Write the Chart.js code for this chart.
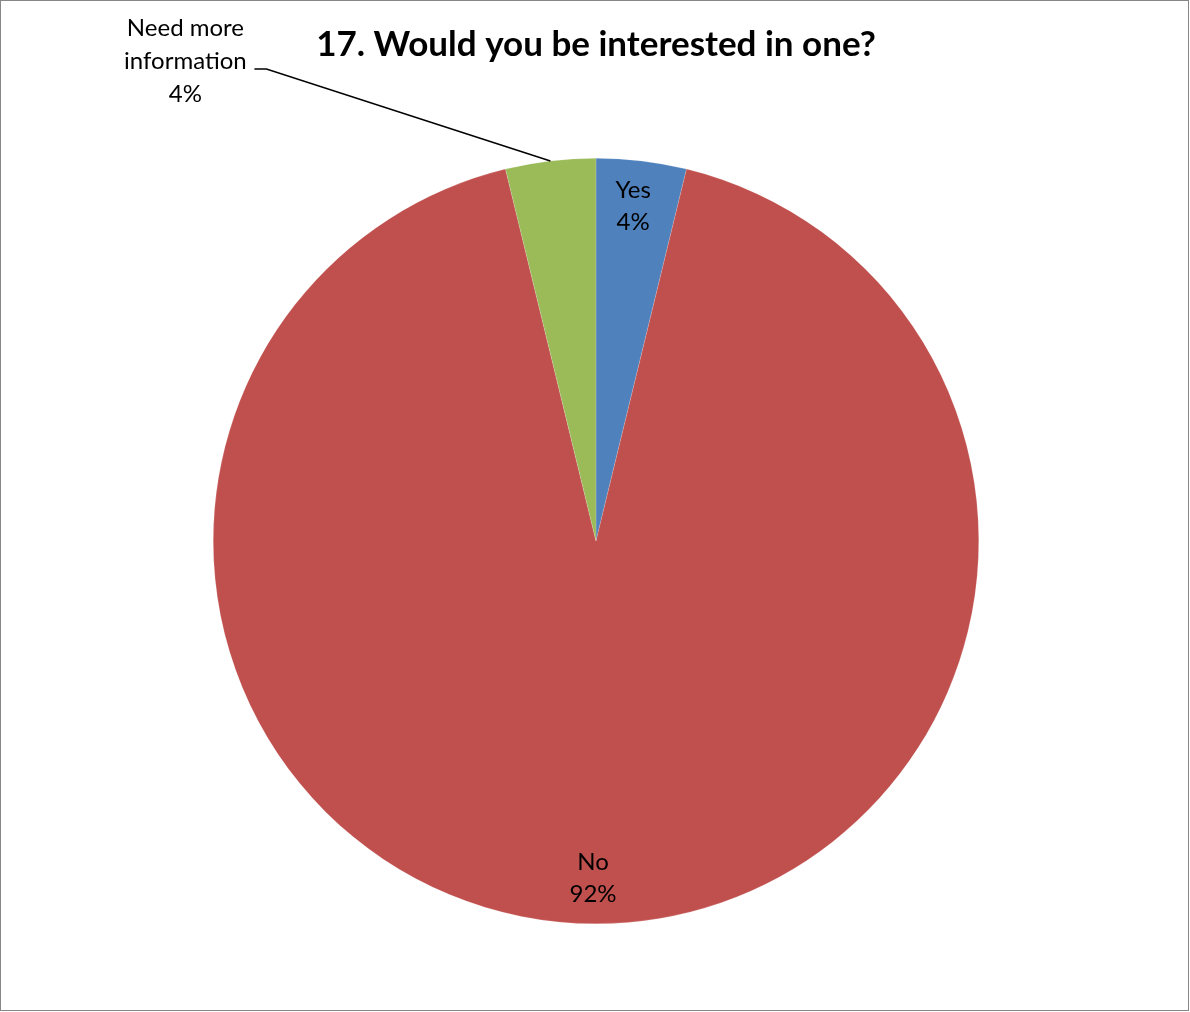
<!DOCTYPE html>
<html>
<head>
<meta charset="utf-8">
<script src="https://cdn.jsdelivr.net/npm/chart.js@4"></script>
<style>
  body { margin: 0; background: #fff; }
  canvas { display: block; }
</style>
</head>
<body>
<canvas id="pieChart" width="1190" height="1012"></canvas>
<script>
// data
const categories = ['Yes', 'No', 'Need more information'];
const shares = [3.8, 92.4, 3.8];
const sliceColors = ['#4F81BD', '#C0504D', '#9BBB59'];
const titleText = '17. Would you be interested in one?';

const FONT = 'Lato, "Open Sans", sans-serif';

// border + title + data labels
const decorations = {
  id: 'decorations',
  beforeDraw(chart) {
    const ctx = chart.ctx;
    ctx.save();
    ctx.fillStyle = '#fff';
    ctx.fillRect(0, 0, chart.width, chart.height);
    ctx.strokeStyle = '#878787';
    ctx.lineWidth = 1;
    ctx.strokeRect(0.5, 0.5, chart.width - 2, chart.height - 2);
    ctx.restore();
  },
  afterDatasetsDraw(chart) {
    const ctx = chart.ctx;
    const meta = chart.getDatasetMeta(0);
    const total = shares.reduce((a, b) => a + b, 0);
    ctx.save();
    ctx.fillStyle = '#000';
    ctx.textAlign = 'center';
    ctx.textBaseline = 'middle';

    // title
    ctx.font = 'bold 35px ' + FONT;
    const cx = (chart.chartArea.left + chart.chartArea.right) / 2;
    ctx.fillText(titleText, cx, 45);

    ctx.font = '24px ' + FONT;
    meta.data.forEach((arc, i) => {
      const p = arc.getProps(['x', 'y', 'startAngle', 'endAngle', 'outerRadius'], true);
      const mid = (p.startAngle + p.endAngle) / 2;
      const pct = Math.round(shares[i] / total * 100) + '%';
      if (i < 2) {
        const lx = p.x + Math.cos(mid) * p.outerRadius * 0.88;
        const ly = p.y + Math.sin(mid) * p.outerRadius * 0.88;
        ctx.fillText(categories[i], lx - 3, ly - 16);
        ctx.fillText(pct, lx - 3, ly + 16);
      } else {
        const ex = p.x + Math.cos(mid) * p.outerRadius;
        const ey = p.y + Math.sin(mid) * p.outerRadius;
        ctx.strokeStyle = '#000';
        ctx.lineWidth = 1.5;
        ctx.beginPath();
        ctx.moveTo(ex, ey);
        ctx.lineTo(ex - 284, ey - 92);
        ctx.lineTo(ex - 296, ey - 92);
        ctx.stroke();
        const tx = ex - 365;
        ctx.fillText('Need more', tx, ey - 133);
        ctx.fillText('information', tx, ey - 100);
        ctx.fillText(pct, tx, ey - 67);
      }
    });
    ctx.restore();
  }
};

new Chart(document.getElementById('pieChart').getContext('2d'), {
  type: 'pie',
  data: {
    labels: categories,
    datasets: [{
      data: shares,
      backgroundColor: sliceColors,
      borderColor: 'rgba(255,255,255,0.3)',
      borderWidth: 0.5,
    }],
  },
  options: {
    responsive: false,
    animation: false,
    layout: {
      padding: { left: 213, right: 211, top: 158, bottom: 88 },
    },
    plugins: {
      legend: { display: false },
      tooltip: { enabled: false },
      title: { display: false },
    },
  },
  plugins: [decorations],
});
</script>
</body>
</html>
